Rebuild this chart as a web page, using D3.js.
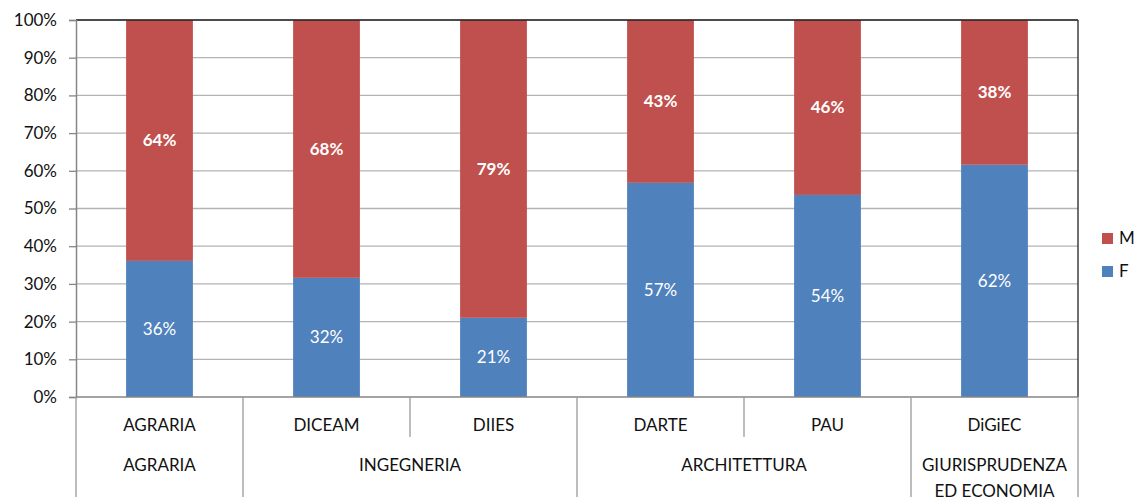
<!DOCTYPE html>
<html><head><meta charset="utf-8">
<script src="https://cdn.jsdelivr.net/npm/d3@7"></script>
<style>body{margin:0;background:#fff}svg{display:block;font-family:Lato,"Open Sans",sans-serif}</style>
</head><body><svg id="c" width="1143" height="497"></svg>
<script>
const categories = ["AGRARIA","DICEAM","DIIES","DARTE","PAU","DiGiEC"];
const groups = [
  {name:["AGRARIA"], span:1},
  {name:["INGEGNERIA"], span:2},
  {name:["ARCHITETTURA"], span:2},
  {name:["GIURISPRUDENZA","ED ECONOMIA"], span:1}
];
const valuesF = [0.361, 0.316, 0.21, 0.568, 0.536, 0.616];
const valuesM = valuesF.map(v => 1 - v);
const yTicks = [0,0.1,0.2,0.3,0.4,0.5,0.6,0.7,0.8,0.9,1];
const colF = "#4F81BD", colM = "#C0504D";

const svg = d3.select("#c");
const L = 76, R = 1078, T = 20, B = 397;
const x = d3.scaleBand().domain(categories).range([L, R]).paddingInner(0.6).paddingOuter(0.3);
const y = d3.scaleLinear().domain([0,1]).range([B, T]);
const fmt = d3.format(".0%");

// grid
svg.append("g").selectAll("line").data(yTicks.slice(1)).join("line")
  .attr("x1", L).attr("x2", R).attr("y1", d => y(d)).attr("y2", d => y(d))
  .attr("stroke", "#b3b3b3").attr("stroke-width", 1.3);

// bars
const step = (R - L) / categories.length;
categories.forEach((c, i) => {
  const bx = x(c), bw = x.bandwidth();
  svg.append("rect").attr("x", bx).attr("width", bw).attr("y", y(valuesF[i])).attr("height", y(0) - y(valuesF[i])).attr("fill", colF);
  svg.append("rect").attr("x", bx).attr("width", bw).attr("y", y(1)).attr("height", y(valuesF[i]) - y(1)).attr("fill", colM);
  svg.append("text").attr("x", bx + bw/2).attr("y", (y(0) + y(valuesF[i]))/2).attr("dy", "0.35em")
    .attr("text-anchor", "middle").attr("fill", "#fff").attr("font-size", 17).text(fmt(valuesF[i]));
  svg.append("text").attr("x", bx + bw/2).attr("y", (y(1) + y(valuesF[i]))/2).attr("dy", "0.35em")
    .attr("text-anchor", "middle").attr("fill", "#fff").attr("font-size", 17).attr("font-weight", "bold").text(fmt(valuesM[i]));
});

// plot border top/right
svg.append("line").attr("x1", L).attr("x2", R).attr("y1", T).attr("y2", T).attr("stroke", "#222").attr("stroke-width", 1.3);
svg.append("line").attr("x1", R).attr("x2", R).attr("y1", T).attr("y2", B).attr("stroke", "#222").attr("stroke-width", 1.3);

// y axis
const yAxis = d3.axisLeft(y).tickValues(yTicks).tickFormat(fmt).tickSize(7).tickPadding(12);
const ga = svg.append("g").attr("transform", `translate(${L},0)`).call(yAxis);
ga.select(".domain").attr("stroke", "#868686").attr("stroke-width", 1.5);
ga.selectAll(".tick line").attr("stroke", "#868686").attr("stroke-width", 1.3);
ga.selectAll(".tick text").attr("font-size", 17).attr("fill", "#111").attr("font-family", "Lato,sans-serif");

// x axis baseline
svg.append("line").attr("x1", L).attr("x2", R).attr("y1", B).attr("y2", B).attr("stroke", "#868686").attr("stroke-width", 1.5);

// category separators
const sepColor = "#9a9a9a";
let idx = 0;
const groupStarts = [];
groups.forEach(g => { groupStarts.push(idx); idx += g.span; });
for (let i = 0; i <= categories.length; i++) {
  const sx = L + i * step;
  const full = i === 0 || i === categories.length || groupStarts.includes(i);
  svg.append("line").attr("x1", sx).attr("x2", sx).attr("y1", B).attr("y2", full ? 497 : 437)
    .attr("stroke", sepColor).attr("stroke-width", 1.3);
}
categories.forEach(c => {
  svg.append("text").attr("x", x(c) + x.bandwidth()/2).attr("y", 425).attr("dy", "0.35em")
    .attr("text-anchor", "middle").attr("font-size", 17).attr("fill", "#111").text(c);
});
groups.forEach((g, gi) => {
  const cx = L + (groupStarts[gi] + g.span/2) * step;
  g.name.forEach((n, k) => {
    svg.append("text").attr("x", cx).attr("y", 465 + k*26).attr("dy", "0.35em")
      .attr("text-anchor", "middle").attr("font-size", 17).attr("fill", "#111").text(n);
  });
});

// legend
const leg = [{k:"M", c:colM}, {k:"F", c:colF}];
leg.forEach((d, i) => {
  const ly = 238 + i*33;
  svg.append("rect").attr("x", 1102).attr("y", ly - 5).attr("width", 11).attr("height", 11).attr("fill", d.c);
  svg.append("text").attr("x", 1119).attr("y", ly).attr("dy", "0.35em").attr("font-size", 17).attr("fill", "#111").text(d.k);
});
</script></body></html>
